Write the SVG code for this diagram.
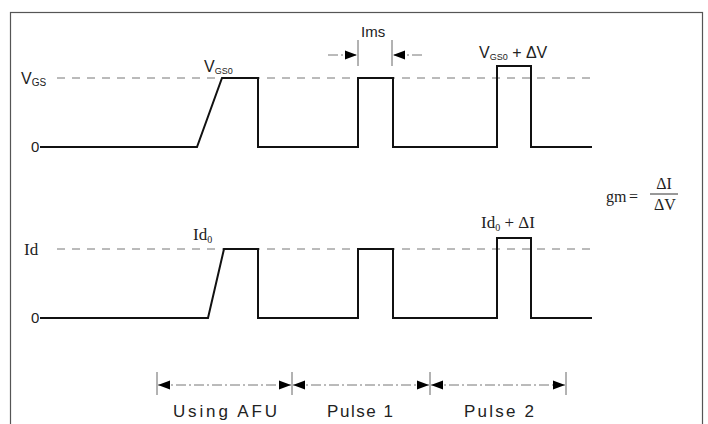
<svg xmlns="http://www.w3.org/2000/svg" width="708" height="424" viewBox="0 0 708 424">
<defs>
<marker id="ah" viewBox="0 0 12 10" refX="12" refY="5" markerWidth="12" markerHeight="10" markerUnits="userSpaceOnUse" orient="auto-start-reverse">
<path d="M0,0.5 L12,5 L0,9.5 Z" fill="#000"/>
</marker>
</defs>
<style>
.wave{fill:none;stroke:#111;stroke-width:2;stroke-linejoin:miter}
.dash{fill:none;stroke:#777;stroke-width:1;stroke-dasharray:8 7}
.dim{fill:none;stroke:#777;stroke-width:1;stroke-dasharray:10 3 2 3}
.tick{fill:none;stroke:#666;stroke-width:1}
.sans{font-family:"Liberation Sans",Arial,sans-serif;fill:#222}
.serif{font-family:"Liberation Serif","Times New Roman",serif;fill:#222}
</style>
<rect x="0" y="0" width="708" height="424" fill="#fff"/>
<rect x="10.5" y="12.5" width="692" height="430" fill="none" stroke="#555" stroke-width="1.2"/>

<g id="vgs-axis">
<text class="sans" x="21" y="84" font-size="16">V<tspan font-size="10" dy="2">GS</tspan></text>
<text class="sans" x="31" y="152" font-size="15">0</text>
</g>
<g id="id-axis">
<text class="serif" x="24" y="255" font-size="17">Id</text>
<text class="sans" x="31" y="323" font-size="15">0</text>
</g>

<g id="vgs-wave">
<line class="dash" x1="57" y1="78" x2="594" y2="78"/>
<polyline class="wave" points="40,147 197,147 222,78 258,78 258,147 358,147 358,78 393,78 393,147 497,147 497,66 531,66 531,147 592,147"/>
</g>
<g id="id-wave">
<line class="dash" x1="57" y1="249" x2="592" y2="249"/>
<polyline class="wave" points="40,318 208,318 224,249 258,249 258,318 358,318 358,249 393,249 393,318 497,318 497,238 531,238 531,318 592,318"/>
</g>

<g id="labels">
<text class="sans" x="204" y="72" font-size="16">V<tspan font-size="9" dy="2">GS0</tspan></text>
<text class="serif" x="193" y="240" font-size="17">Id<tspan font-size="10" dy="3">0</tspan></text>
<text class="sans" x="479" y="58" font-size="16">V<tspan font-size="9" dy="2">GS0</tspan><tspan dy="-2"> + ΔV</tspan></text>
<text class="serif" x="481" y="228" font-size="17">Id<tspan font-size="10" dy="3">0</tspan><tspan dy="-3"> + ΔI</tspan></text>
<text class="sans" x="361" y="37" font-size="15">Ims</text>
</g>

<g id="formula">
<text class="serif" x="606" y="202" font-size="16">gm</text>
<text class="serif" x="629" y="202" font-size="16">=</text>
<text class="serif" x="664" y="189" font-size="16" text-anchor="middle">ΔI</text>
<line x1="650" y1="194" x2="678" y2="194" stroke="#333" stroke-width="1"/>
<text class="serif" x="665" y="210" font-size="16" text-anchor="middle">ΔV</text>
</g>

<g id="connectors">
<line class="tick" x1="358" y1="40" x2="358" y2="66"/>
<line class="tick" x1="392" y1="40" x2="392" y2="66"/>
<line class="dim" x1="328" y1="55" x2="357" y2="55" marker-end="url(#ah)"/>
<line class="dim" x1="422" y1="55" x2="393" y2="55" marker-end="url(#ah)"/>

<line class="tick" x1="157" y1="372" x2="157" y2="395"/>
<line class="tick" x1="292" y1="372" x2="292" y2="395"/>
<line class="tick" x1="430" y1="372" x2="430" y2="395"/>
<line class="tick" x1="566" y1="372" x2="566" y2="395"/>
<line class="dim" x1="158" y1="385" x2="291" y2="385" marker-start="url(#ah)" marker-end="url(#ah)"/>
<line class="dim" x1="293" y1="385" x2="429" y2="385" marker-start="url(#ah)" marker-end="url(#ah)"/>
<line class="dim" x1="431" y1="385" x2="565" y2="385" marker-start="url(#ah)" marker-end="url(#ah)"/>
</g>

<g id="periods">
<text class="sans" x="225" y="417" font-size="17" text-anchor="middle" textLength="104" lengthAdjust="spacing">Using AFU</text>
<text class="sans" x="360" y="417" font-size="17" text-anchor="middle" textLength="66" lengthAdjust="spacing">Pulse 1</text>
<text class="sans" x="499" y="417" font-size="17" text-anchor="middle" textLength="70" lengthAdjust="spacing">Pulse 2</text>
</g>
</svg>
